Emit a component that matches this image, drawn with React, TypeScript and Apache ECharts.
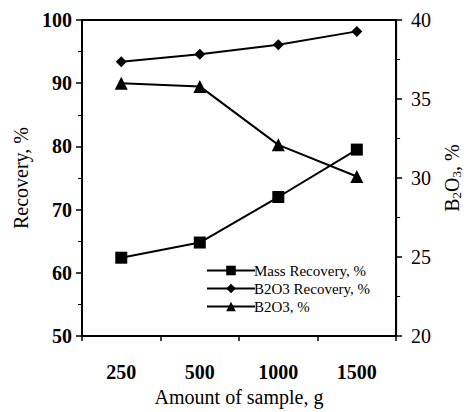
import React, { useEffect, useRef } from "react";
import * as echarts from "echarts";

const categories = ["250", "500", "1000", "1500"];
const massRecovery = [62.4, 64.8, 72.0, 79.5];
const b2o3Recovery = [93.4, 94.6, 96.1, 98.2];
const b2o3Percent = [36.0, 35.8, 32.1, 30.1];

const FONT = "'Liberation Serif', 'Times New Roman', serif";

export default function App() {
  const ref = useRef<HTMLDivElement>(null);
  useEffect(() => {
    if (!ref.current) return;
    const chart = echarts.init(ref.current, null, { renderer: "svg" });
    const axisLine = { show: true, lineStyle: { color: "#000", width: 2 } };
    chart.setOption({
      animation: false,
      backgroundColor: "#fff",
      textStyle: { fontFamily: FONT, color: "#000" },
      grid: {
        left: 82,
        right: 69,
        top: 20,
        bottom: 71,
        show: true,
        borderColor: "#000",
        borderWidth: 2,
        backgroundColor: "transparent",
      },
      legend: {
        orient: "vertical",
        left: 201,
        top: 258,
        itemWidth: 48,
        itemHeight: 12,
        itemGap: 3,
        textStyle: { fontFamily: FONT, fontSize: 15, color: "#000", padding: [0, 0, 0, -6] },
        data: [
          { name: "Mass Recovery, %" },
          { name: "B2O3 Recovery, %" },
          { name: "B2O3, %" },
        ],
      },
      xAxis: {
        type: "category",
        data: categories,
        boundaryGap: true,
        axisLine,
        axisTick: { show: true, length: 5, lineStyle: { color: "#000", width: 1.5 } },
        axisLabel: { margin: 26, fontFamily: FONT, fontSize: 20, fontWeight: "bold", color: "#000" },
        name: "Amount of sample, g",
        nameLocation: "middle",
        nameGap: 46,
        nameTextStyle: { fontFamily: FONT, fontSize: 20, color: "#000" },
      },
      yAxis: [
        {
          type: "value",
          min: 50,
          max: 100,
          interval: 10,
          position: "left",
          splitLine: { show: false },
          axisLine,
          axisTick: { show: true, length: 6, lineStyle: { color: "#000", width: 1.5 } },
          minorTick: { show: true, splitNumber: 2, length: 4, lineStyle: { color: "#000" } },
          axisLabel: { margin: 10, fontFamily: FONT, fontSize: 20, fontWeight: "bold", color: "#000" },
          name: "Recovery, %",
          nameLocation: "middle",
          nameGap: 48,
          nameTextStyle: { fontFamily: FONT, fontSize: 20, color: "#000" },
        },
        {
          type: "value",
          min: 20,
          max: 40,
          interval: 5,
          position: "right",
          splitLine: { show: false },
          axisLine,
          axisTick: { show: true, length: 6, lineStyle: { color: "#000", width: 1.5 } },
          minorTick: { show: true, splitNumber: 2, length: 4, lineStyle: { color: "#000" } },
          axisLabel: { margin: 15, fontFamily: FONT, fontSize: 20, color: "#000" },
          name: "B{sub|2}O{sub|3}, %",
          nameLocation: "middle",
          nameGap: 44,
          nameRotate: 90,
          nameTextStyle: {
            fontFamily: FONT,
            fontSize: 20,
            color: "#000",
            rich: {
              sub: { fontFamily: FONT, fontSize: 13, color: "#000", padding: [9, 0, 0, 0] },
            },
          },
        },
      ],
      series: [
        {
          name: "Mass Recovery, %",
          type: "line",
          data: massRecovery,
          yAxisIndex: 0,
          symbol: "rect",
          symbolSize: 12,
          itemStyle: { color: "#000" },
          lineStyle: { color: "#000", width: 2 },
        },
        {
          name: "B2O3 Recovery, %",
          type: "line",
          data: b2o3Recovery,
          yAxisIndex: 0,
          symbol: "diamond",
          symbolSize: 11,
          itemStyle: { color: "#000" },
          lineStyle: { color: "#000", width: 2 },
        },
        {
          name: "B2O3, %",
          type: "line",
          data: b2o3Percent,
          yAxisIndex: 1,
          symbol: "triangle",
          symbolSize: 13,
          itemStyle: { color: "#000" },
          lineStyle: { color: "#000", width: 2 },
        },
      ],
    });
    return () => chart.dispose();
  }, []);
  return <div ref={ref} style={{ width: 471, height: 412, position: "absolute", left: 0, top: 0 }} />;
}
